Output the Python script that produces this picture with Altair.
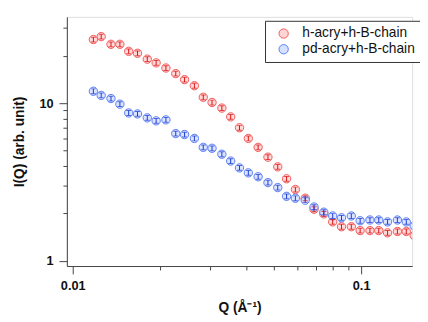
import altair as alt
import pandas as pd

# Q values (Å^-1)
q = [0.01179, 0.01255, 0.01357, 0.01457, 0.01563, 0.01677, 0.01813, 0.01946,
     0.02104, 0.02276, 0.02442, 0.02641, 0.02835, 0.03041, 0.03289, 0.03529,
     0.03786, 0.04063, 0.04394, 0.04752, 0.05139, 0.05514, 0.05916, 0.06399,
     0.06866, 0.07425, 0.07968, 0.08550, 0.09247, 0.09922, 0.1073, 0.1151,
     0.1235, 0.1336, 0.1434, 0.1527]

i_h = [25.3, 26.4, 23.6, 23.6, 21.3, 20.7, 19.0, 18.0, 16.7, 15.4, 14.1, 12.9,
       10.9, 10.1, 9.31, 8.19, 6.99, 5.98, 5.25, 4.55, 3.95, 3.32, 2.84, 2.50,
       2.13, 1.99, 1.77, 1.65, 1.65, 1.56, 1.56, 1.56, 1.51, 1.54, 1.54, 1.45]

i_pd = [11.9, 11.2, 10.7, 9.86, 8.67, 8.55, 8.07, 7.73, 7.84, 6.42, 6.33, 5.98,
        5.25, 5.18, 4.75, 4.30, 3.89, 3.62, 3.42, 3.14, 2.92, 2.57, 2.50, 2.43,
        2.20, 2.04, 1.93, 1.88, 1.93, 1.80, 1.82, 1.82, 1.77, 1.82, 1.77, 1.67]

series_names = ["h-acry+h-B-chain", "pd-acry+h-B-chain"]
stroke_colors = ["#f25a5a", "#5a7ef2"]
fill_colors = ["#ffd4d4", "#d6e0ff"]
bar_colors = ["#d81010", "#1838d0"]
REL_ERR = 0.035

x_ticks = [0.01, 0.02, 0.03, 0.04, 0.05, 0.06, 0.07, 0.08, 0.09, 0.1]
y_ticks = [1, 2, 3, 4, 5, 6, 7, 8, 9, 10, 20, 30]

rows = []
for name, vals in zip(series_names, [i_h, i_pd]):
    for qq, v in zip(q, vals):
        rows.append({"q": qq, "I": v, "lo": v * (1 - REL_ERR),
                     "hi": v * (1 + REL_ERR), "series": name,
                     "series_fill": name})
df = pd.DataFrame(rows)

FONT = "Liberation Sans"

xscale = alt.Scale(type="log", domain=[0.00954, 0.1503], nice=False)
yscale = alt.Scale(type="log", domain=[0.93, 35.2], nice=False)

x_axis = alt.Axis(
    values=x_ticks, title="Q (Å⁻¹)",
    labelExpr="datum.value == 0.01 ? '0.01' : (datum.value == 0.1 ? '0.1' : '')",
    tickSize={"condition": {"test": "datum.value == 0.01 || datum.value == 0.1", "value": 8}, "value": 4},
    labelPadding=6, titlePadding=8, grid=False,
    labelFont=FONT, labelFontSize=13, labelFontWeight="bold", labelColor="#111",
    titleFont=FONT, titleFontSize=14, titleFontWeight="bold", titleColor="#111",
    domainColor="#444", tickColor="#444", labelFlush=False, labelOverlap=False,
)
y_axis = alt.Axis(
    values=y_ticks, title="I(Q) (arb. unit)",
    labelExpr="datum.value == 1 ? '1' : (datum.value == 10 ? '10' : '')",
    tickSize={"condition": {"test": "datum.value == 1 || datum.value == 10", "value": 8}, "value": 4},
    labelPadding=6, titlePadding=13, grid=False,
    labelFont=FONT, labelFontSize=13, labelFontWeight="bold", labelColor="#111",
    titleFont=FONT, titleFontSize=14, titleFontWeight="bold", titleColor="#111",
    domainColor="#444", tickColor="#444", labelFlush=False, labelOverlap=False,
)

base = alt.Chart(df)

points = base.mark_point(shape="circle", size=72, strokeWidth=1, opacity=1,
                         filled=False, fillOpacity=0.85, clip=True).encode(
    x=alt.X("q:Q", scale=xscale, axis=x_axis),
    y=alt.Y("I:Q", scale=yscale, axis=y_axis),
    color=alt.Color("series:N", scale=alt.Scale(domain=series_names, range=stroke_colors),
                    legend=alt.Legend(
                        title=None, orient="none", legendX=202, legendY=4,
                        strokeColor="#333", fillColor="white", padding=6,
                        symbolType="circle", symbolSize=90, symbolStrokeWidth=1,
                        symbolFillColor="white", symbolOffset=6,
                        labelOffset=12, labelFont=FONT, labelFontSize=14,
                        labelColor="#111", rowPadding=2, cornerRadius=0)),
    fill=alt.Fill("series_fill:N", scale=alt.Scale(domain=series_names, range=fill_colors),
                  legend=None),
)

err_layers = []
for name, bc in zip(series_names, bar_colors):
    sub = base.transform_filter(alt.datum.series == name)
    err_layers.append(sub.mark_rule(strokeWidth=1, clip=True, color=bc).encode(
        x="q:Q", y="lo:Q", y2="hi:Q"))
    err_layers.append(sub.mark_tick(orient="horizontal", size=5, thickness=1,
                                    clip=True, color=bc).encode(x="q:Q", y="lo:Q"))
    err_layers.append(sub.mark_tick(orient="horizontal", size=5, thickness=1,
                                    clip=True, color=bc).encode(x="q:Q", y="hi:Q"))

chart = alt.layer(points, *err_layers).properties(
    width=352, height=254,
    autosize=alt.AutoSizeParams(type="none"),
    padding={"left": 60, "top": 6, "right": 8, "bottom": 54},
).configure_view(stroke=None).configure(background="white")

chart.save("out.html", embed_options={"renderer": "svg", "actions": False})
